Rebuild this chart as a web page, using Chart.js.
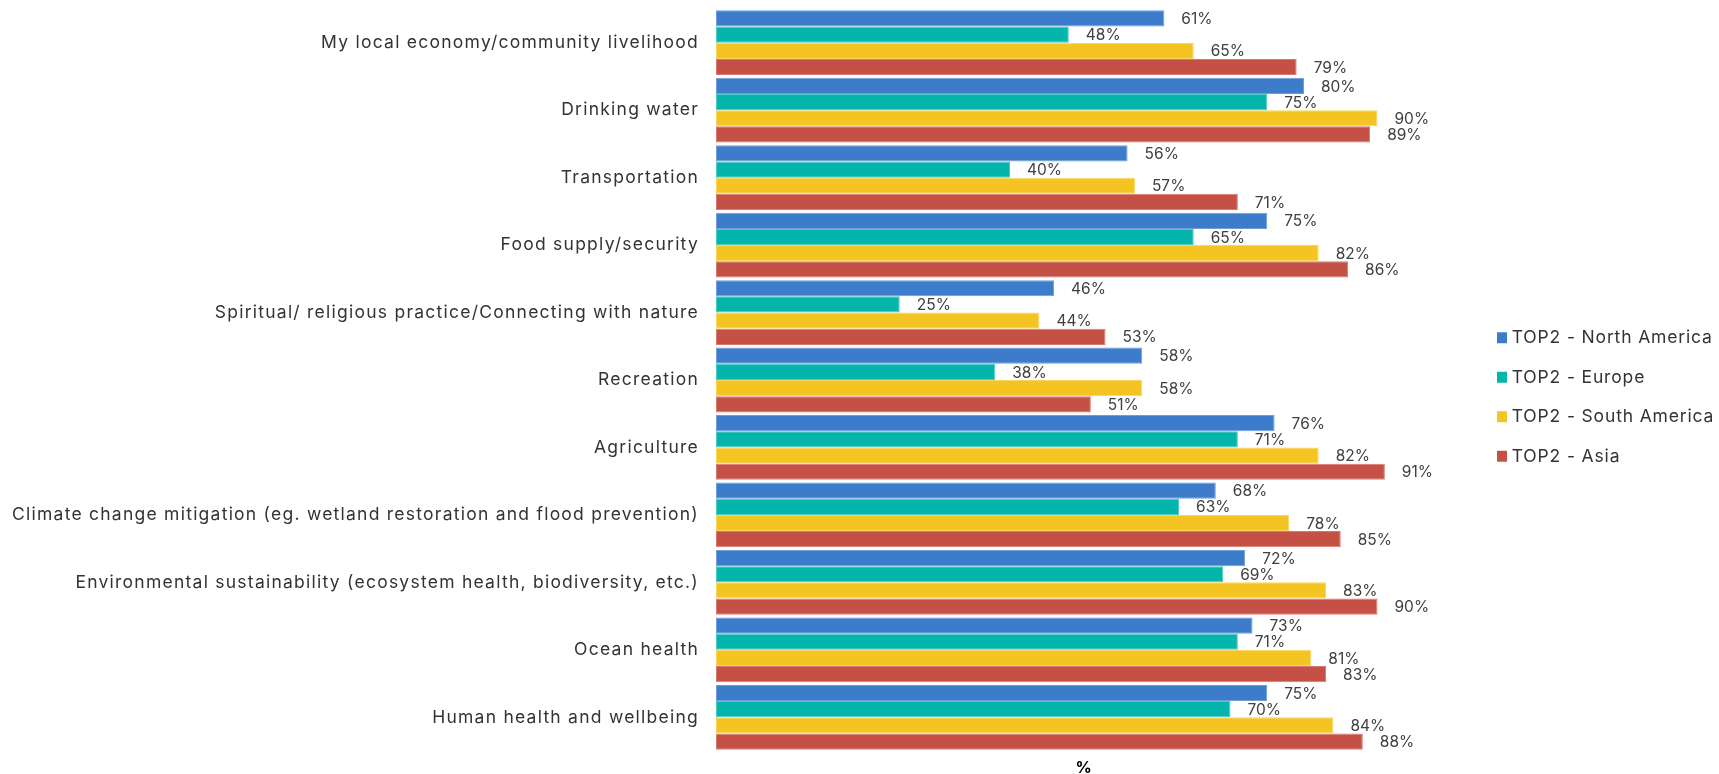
<!DOCTYPE html>
<html>
<head>
<meta charset="utf-8">
<script src="https://cdn.jsdelivr.net/npm/chart.js@4.4.1/dist/chart.umd.min.js"></script>
<style>
  html, body { margin: 0; padding: 0; background: #ffffff; }
  #wrap { width: 1719px; height: 774px; }
</style>
</head>
<body>
<div id="wrap"><canvas id="c" width="1719" height="774"></canvas></div>
<script>
const categories = [
  "My local economy/community livelihood",
  "Drinking water",
  "Transportation",
  "Food supply/security",
  "Spiritual/ religious practice/Connecting with nature",
  "Recreation",
  "Agriculture",
  "Climate change mitigation (eg. wetland restoration and flood prevention)",
  "Environmental sustainability (ecosystem health, biodiversity, etc.)",
  "Ocean health",
  "Human health and wellbeing"
];
const seriesNames = ["TOP2 - North America", "TOP2 - Europe", "TOP2 - South America", "TOP2 - Asia"];
const northAmerica = [61, 80, 56, 75, 46, 58, 76, 68, 72, 73, 75];
const europe       = [48, 75, 40, 65, 25, 38, 71, 63, 69, 71, 70];
const southAmerica = [65, 90, 57, 82, 44, 58, 82, 78, 83, 81, 84];
const asia         = [79, 89, 71, 86, 53, 51, 91, 85, 90, 83, 88];
const axisTitle = "%";

const FONT = "Inter, 'DejaVu Sans', sans-serif";
const CAT_SIZE = 17.5;
const LEG_SIZE = 17.5;
const LBL_SIZE = 15.5;
const colors = ["#3D7CCB", "#03B5AA", "#F4C522", "#C55045"];
const borders = ["#6F9CDA", "#4FCAC2", "#F8D660", "#D57A71"];
const values = [northAmerica, europe, southAmerica, asia];

// letter spacing so that the label text widths match the reference's wide face
const spacing = { y: 0, legend: 0 };
(function computeSpacing() {
  const ctx = document.createElement('canvas').getContext('2d');
  const longest = categories[7];
  ctx.font = CAT_SIZE + "px " + FONT;
  spacing.y = (687 - ctx.measureText(longest).width) / longest.length;
  ctx.font = LEG_SIZE + "px " + FONT;
  const leg = seriesNames[0];
  spacing.legend = (201 - ctx.measureText(leg).width) / leg.length;
})();

const datasets = seriesNames.map((name, i) => ({
  label: name,
  data: values[i],
  backgroundColor: colors[i],
  borderColor: borders[i],
  borderWidth: 1,
  borderSkipped: false,
  barPercentage: 1.0,
  categoryPercentage: 0.96
}));

const valueLabels = {
  id: 'valueLabels',
  afterDatasetsDraw(chart) {
    const ctx = chart.ctx;
    ctx.save();
    ctx.letterSpacing = '0px';
    ctx.font = LBL_SIZE + "px " + FONT;
    ctx.fillStyle = "#404040";
    ctx.textAlign = "left";
    ctx.textBaseline = "middle";
    chart.data.datasets.forEach((ds, di) => {
      const meta = chart.getDatasetMeta(di);
      meta.data.forEach((el, i) => {
        ctx.fillText(ds.data[i] + "%", el.x + 17, el.y + 1);
      });
    });
    ctx.restore();
  }
};

const layoutTweaks = {
  id: 'layoutTweaks',
  afterInit(chart) {
    const lg = chart.legend;
    const origFit = lg.fit.bind(lg);
    lg.fit = function () { origFit(); this.width = 268; };
    const origDraw = lg.draw.bind(lg);
    lg.draw = function () {
      chart.ctx.letterSpacing = spacing.legend + 'px';
      origDraw();
      chart.ctx.letterSpacing = '0px';
    };
  },
  afterLayout(chart) {
    const lg = chart.legend;
    lg.left = 1501 - 22;
    lg.right = lg.left + lg.width;
    lg.top = 307;
    const ys = chart.scales.y;
    if (!ys._lsWrapped) {
      const orig = ys.drawLabels.bind(ys);
      ys.drawLabels = function (area) {
        chart.ctx.letterSpacing = spacing.y + 'px';
        orig(area);
        chart.ctx.letterSpacing = '0px';
      };
      ys._lsWrapped = true;
    }
  }
};

new Chart(document.getElementById('c'), {
  type: 'bar',
  data: { labels: categories, datasets: datasets },
  options: {
    indexAxis: 'y',
    responsive: false,
    animation: false,
    maintainAspectRatio: false,
    layout: { padding: { top: 9, left: 0, right: 0, bottom: 0 } },
    scales: {
      x: {
        min: 0, max: 100,
        grid: { display: false, drawTicks: false },
        border: { display: false },
        ticks: { display: false },
        title: {
          display: true, text: axisTitle, color: "#000000",
          font: { family: FONT, size: 16, weight: 'bold', lineHeight: 1 },
          padding: { top: 9, bottom: -2 }
        },
        afterFit(scale) { scale.paddingLeft = 0; scale.paddingRight = 0; }
      },
      y: {
        grid: { display: false, drawTicks: false },
        border: { display: false },
        ticks: {
          color: "#333333", padding: 17, autoSkip: false,
          font: { family: FONT, size: CAT_SIZE }
        },
        afterFit(scale) {
          scale.width = 716;
          scale.paddingTop = 0;
          scale.paddingBottom = 0;
        }
      }
    },
    plugins: {
      legend: {
        position: 'right',
        align: 'start',
        labels: {
          boxWidth: 2, boxHeight: 3, padding: 22,
          color: "#333333",
          font: { family: FONT, size: LEG_SIZE },
          generateLabels(chart) {
            const items = Chart.defaults.plugins.legend.labels.generateLabels(chart);
            items.forEach(it => {
              it.strokeStyle = it.fillStyle;
              it.lineWidth = 8;
              it.lineJoin = 'miter';
            });
            return items;
          }
        }
      },
      tooltip: { enabled: false }
    }
  },
  plugins: [valueLabels, layoutTweaks]
});
</script>
</body>
</html>
